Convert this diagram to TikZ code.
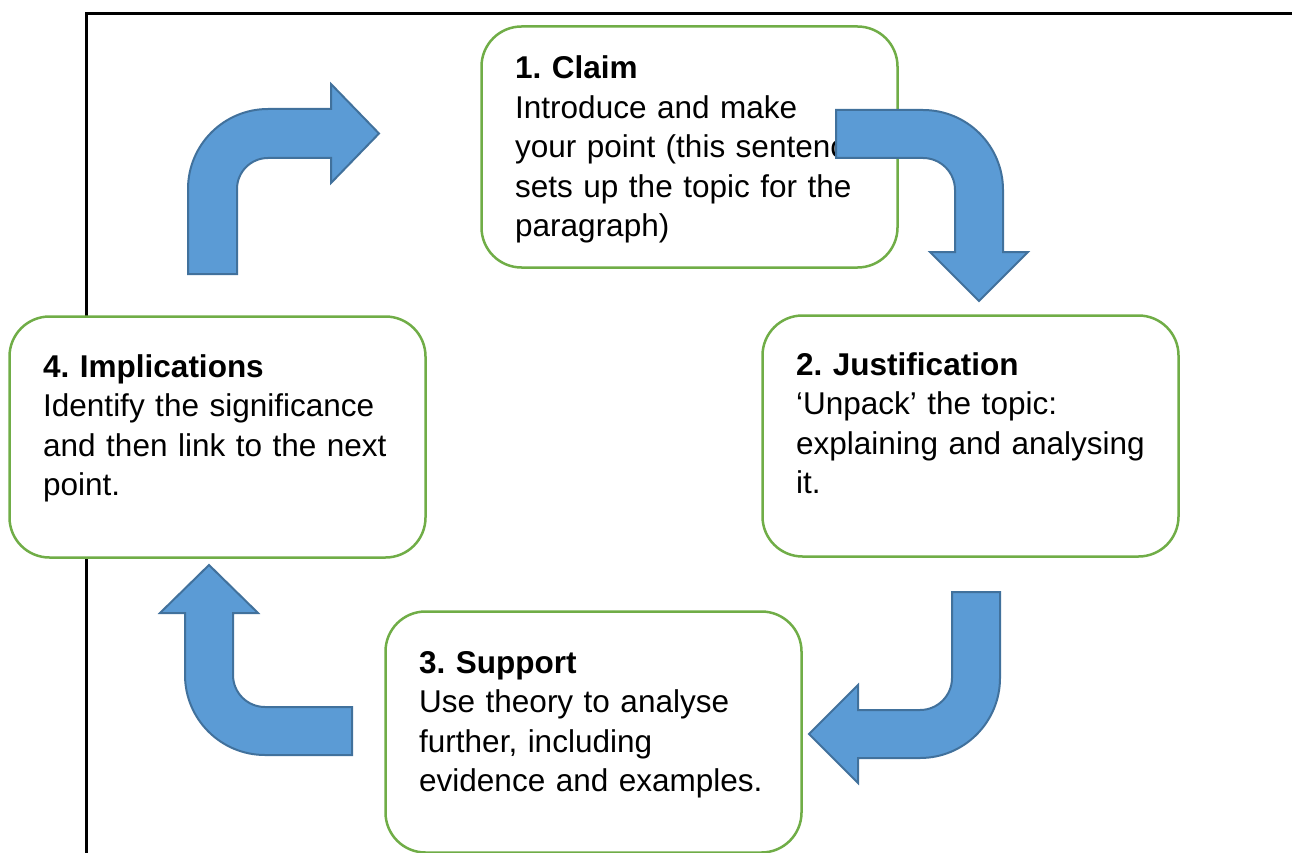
\documentclass[tikz,border=0pt]{standalone}
\usepackage{fontspec}
\setmainfont{Liberation Sans}
\frenchspacing
\definecolor{boxgreen}{HTML}{70AD47}
\definecolor{arrowfill}{HTML}{5B9BD5}
\definecolor{arrowline}{HTML}{41719C}

\begin{document}
\begin{tikzpicture}[x=1pt,y=-1pt,
box/.style={draw=boxgreen,line width=2.5pt,fill=white,rounded corners=40pt,
	minimum width=416pt,minimum height=241pt,outer sep=0pt},
txt/.style={anchor=base west,inner sep=0pt,text width=390pt,align=left,
	font=\fontsize{31.5}{39.5}\selectfont},
bent/.style={fill=arrowfill,draw=arrowline,line width=2pt}]
\useasboundingbox (0,0) rectangle (1292,853);
\draw[line width=3pt] (86,853) -- (86,14) -- (1292,14);

\node[box] (claim) at (689.5,147) {};
\node[box] (justif) at (970.5,436) {};
\node[box] (support) at (593.5,732) {};
\node[box] (implic) at (217.5,437) {};

\node[txt] (claimtxt) at ([shift={(33.5,52.5)}]claim.north west)
	{\textbf{1. Claim}\\Introduce and make\\your point (this sentence\\sets up the topic for the\\paragraph)};
\node[txt] (justiftxt) at ([shift={(33.5,59.5)}]justif.north west)
	{\textbf{2. Justification}\\‘Unpack’ the topic:\\explaining and analysing\\it.};
\node[txt] (supporttxt) at ([shift={(33.5,61.5)}]support.north west)
	{\textbf{3. Support}\\Use theory to analyse\\further, including\\evidence and examples.};
\node[txt] (implictxt) at ([shift={(33.5,60.5)}]implic.north west)
	{\textbf{4. Implications}\\Identify the significance\\and then link to the next\\point.};

\draw[bent] (188,274) -- (188,189) arc[start angle=180,end angle=270,radius=80]
	-- (331,109) -- (331,84) -- (379,133.5) -- (331,183) -- (331,158)
	-- (268,158) arc[start angle=270,end angle=180,radius=31] -- (237,274) -- cycle;
\draw[bent] (836,110) -- (923,110) arc[start angle=270,end angle=360,radius=80]
	-- (1003,252) -- (1028,252) -- (979,301) -- (930,252) -- (955,252)
	-- (955,190) arc[start angle=0,end angle=-90,radius=32] -- (836,158) -- cycle;
\draw[bent] (952,592) -- (1000,592) -- (1000,678) arc[start angle=0,end angle=90,radius=80]
	-- (858,758) -- (858,783) -- (809,734) -- (858,685) -- (858,710)
	-- (920,710) arc[start angle=90,end angle=0,radius=32] -- cycle;
\draw[bent] (352,707) -- (352,755) -- (265,755) arc[start angle=90,end angle=180,radius=80]
	-- (185,613) -- (160,613) -- (209,565) -- (258,613) -- (233,613)
	-- (233,675) arc[start angle=180,end angle=90,radius=32] -- cycle;
\end{tikzpicture}
\end{document}
